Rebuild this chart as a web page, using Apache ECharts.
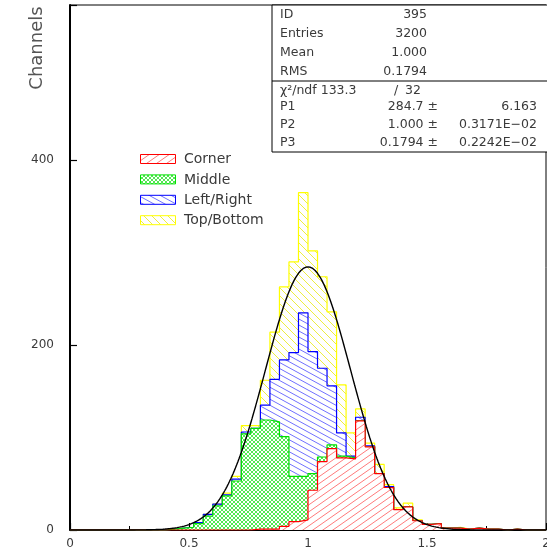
<!DOCTYPE html>
<html>
<head>
<meta charset="utf-8">
<script src="https://cdn.jsdelivr.net/npm/echarts@6/dist/echarts.min.js"></script>
<style>
  html, body { margin: 0; padding: 0; background: #fff; }
  #chart { width: 547px; height: 548px; }
</style>
</head>
<body>
<div id="chart"></div>
<script>
// Histogram binning: 50 bins of width 0.04 on [0, 2]
const binWidth = 0.04;
const nBins = 50;

// Entries per bin for each detector region
const corner = [
  0, 0, 0, 0, 0, 0, 0, 0, 0, 0,
  0, 0, 0, 0, 0, 0, 0, 0, 0, 1,
  1, 1, 4, 9, 11, 43, 74, 88, 78, 77,
  118, 90, 61, 46, 22, 25, 10, 6, 7, 2,
  2, 1, 2, 1, 1, 0, 1, 0, 0, 0
];
const middle = [
  0, 0, 0, 0, 0, 0, 0, 0, 0, 0,
  1, 2, 3, 7, 15, 26, 37, 53, 104, 109,
  118, 116, 97, 49, 47, 18, 5, 4, 2, 1,
  0, 0, 0, 0, 0, 0, 0, 0, 0, 0,
  0, 0, 0, 0, 0, 0, 0, 0, 0, 0
];
const leftRight = [
  0, 0, 0, 0, 0, 0, 0, 0, 0, 0,
  0, 0, 0, 1, 2, 2, 1, 2, 2, 0,
  16, 46, 83, 134, 177, 132, 96, 64, 25, 2,
  4, 1, 0, 1, 0, 0, 0, 0, 0, 0,
  0, 0, 0, 0, 0, 0, 0, 0, 0, 0
];
const topBottom = [
  0, 0, 0, 0, 0, 0, 0, 0, 0, 0,
  0, 0, 0, 0, 0, 0, 2, 3, 7, 3,
  27, 51, 79, 98, 130, 109, 99, 80, 52, 25,
  9, 3, 10, 2, 2, 4, 1, 0, 0, 0,
  1, 0, 0, 0, 0, 0, 0, 0, 0, 0
];

// Gaussian fit parameters
const fitP1 = 284.7;
const fitP2 = 1.000;
const fitP3 = 0.1794;

// Legend entries and statistics box text
const legendNames = ['Corner', 'Middle', 'Left/Right', 'Top/Bottom'];
const statsTop = [
  ['ID', '395'],
  ['Entries', '3200'],
  ['Mean', '1.000'],
  ['RMS', '0.1794']
];
const chi2Text = ['\u03c7\u00b2/ndf 133.3', '/', '32'];
const fitRows = [
  ['P1', '284.7 \u00b1', '6.163'],
  ['P2', '1.000 \u00b1', '0.3171E\u221202'],
  ['P3', '0.1794 \u00b1', '0.2242E\u221202']
];
const xTickLabels = ['0', '0.5', '1', '1.5', '2'];

// Hatch tiles (white ground with diagonal strokes)
function makePattern(w, h, lineColor, dirs, lw) {
  const c = document.createElement('canvas');
  c.width = w; c.height = h;
  const g = c.getContext('2d');
  g.fillStyle = '#fff';
  g.fillRect(0, 0, w, h);
  g.strokeStyle = lineColor;
  g.lineWidth = lw;
  for (const d of dirs) {
    for (let ox = -1; ox <= 1; ox++) {
      for (let oy = -1; oy <= 1; oy++) {
        g.beginPath();
        if (d === '/') {
          g.moveTo(ox * w, oy * h + h);
          g.lineTo(ox * w + w, oy * h);
        } else {
          g.moveTo(ox * w, oy * h);
          g.lineTo(ox * w + w, oy * h + h);
        }
        g.stroke();
      }
    }
  }
  return c;
}

const styles = [
  { line: '#ff0000', tile: makePattern(10, 7, '#ff7a7a', ['/'], 1) },
  { line: '#00e000', tile: makePattern(4, 4, '#3ee83e', ['/', '\\'], 0.9) },
  { line: '#0000ff', tile: makePattern(11, 6, '#7070ff', ['\\'], 1) },
  { line: '#ffff00', tile: makePattern(8, 8, '#eeee40', ['\\'], 1) }
];

// Cumulative (stacked) contents, bottom to top
const parts = [corner, middle, leftRight, topBottom];
const cumulative = [];
let running = new Array(nBins).fill(0);
for (const p of parts) {
  running = running.map((v, i) => v + p[i]);
  cumulative.push(running.slice());
}

function stepData(arr) {
  const d = [];
  for (let i = 0; i < nBins; i++) d.push([i * binWidth, arr[i]]);
  d.push([nBins * binWidth, arr[nBins - 1]]);
  return d;
}

// Fit curve sampled over the histogram range
const fitData = [];
for (let k = 0; k <= 400; k++) {
  const x = k * 0.005;
  const u = (x - fitP2) / fitP3;
  fitData.push([x, fitP1 * Math.exp(-0.5 * u * u)]);
}

const series = [];
// draw back (Top/Bottom, total) to front (Corner)
for (let s = 3; s >= 0; s--) {
  series.push({
    type: 'line',
    name: legendNames[s],
    data: stepData(cumulative[s]),
    step: 'end',
    showSymbol: false,
    symbol: 'none',
    z: 2 + (3 - s),
    lineStyle: { color: styles[s].line, width: 1.2 },
    areaStyle: { color: { image: styles[s].tile, repeat: 'repeat' }, opacity: 1 },
    animation: false
  });
}
series.push({
  type: 'line',
  name: 'fit',
  data: fitData,
  showSymbol: false,
  symbol: 'none',
  z: 10,
  lineStyle: { color: '#000', width: 1.4 },
  animation: false
});

const font = '"DejaVu Sans", "Liberation Sans", sans-serif';
const txtColor = '#3a3a3a';

function text(x, y, str, size, align, rotation, color) {
  return {
    type: 'text',
    z: 30,
    x: x, y: y,
    rotation: rotation || 0,
    style: {
      x: 0, y: 0, text: str,
      font: size + 'px ' + font,
      fill: color || txtColor,
      align: align, textAlign: align,
      verticalAlign: 'middle', textVerticalAlign: 'middle'
    }
  };
}

const graphics = [];
// statistics box
graphics.push({
  type: 'rect', z: 25,
  shape: { x: 272, y: 5, width: 300, height: 147 },
  style: { fill: '#fff', stroke: '#000', lineWidth: 1 }
});
graphics.push({
  type: 'line', z: 26,
  shape: { x1: 272, y1: 81, x2: 547, y2: 81 },
  style: { stroke: '#000', lineWidth: 1 }
});
const topRowsY = [15, 34, 53, 72];
statsTop.forEach((r, i) => {
  graphics.push(text(280, topRowsY[i], r[0], 12.5, 'left'));
  graphics.push(text(427, topRowsY[i], r[1], 12.5, 'right'));
});
graphics.push(text(280, 91, chi2Text[0], 12.5, 'left'));
graphics.push(text(396, 91, chi2Text[1], 12.5, 'center'));
graphics.push(text(421, 91, chi2Text[2], 12.5, 'right'));
const fitRowsY = [107, 125, 143];
fitRows.forEach((r, i) => {
  graphics.push(text(280, fitRowsY[i], r[0], 12.5, 'left'));
  graphics.push(text(438, fitRowsY[i], r[1], 12.5, 'right'));
  graphics.push(text(537, fitRowsY[i], r[2], 12.5, 'right'));
});
// legend
legendNames.forEach((n, i) => {
  const y = 154.5 + i * 20.4;
  graphics.push({
    type: 'rect', z: 25,
    shape: { x: 140.5, y: y, width: 35, height: 9 },
    style: { fill: { image: styles[i].tile, repeat: 'repeat' }, stroke: styles[i].line, lineWidth: 1 }
  });
  graphics.push(text(184, y + 5, n, 14, 'left'));
});
// vertical axis title
graphics.push(text(37, 48, 'Channels', 18, 'center', Math.PI / 2, '#555'));

const chart = echarts.init(document.getElementById('chart'), null, { renderer: 'canvas' });
chart.setOption({
  animation: false,
  backgroundColor: '#fff',
  grid: {
    left: 70, right: 1, top: 5, bottom: 18,
    outerBoundsMode: 'none',
    containLabel: false,
    show: true, borderColor: '#000', borderWidth: 1, backgroundColor: 'transparent'
  },
  xAxis: {
    type: 'value', min: 0, max: 2, interval: 0.5,
    axisLine: { show: true, onZero: false, lineStyle: { color: '#000', width: 1 } },
    axisTick: { show: true, inside: true, length: 7, lineStyle: { color: '#000', width: 1.2 } },
    minorTick: { show: true, splitNumber: 2, length: 4, lineStyle: { color: '#000', width: 1 } },
    splitLine: { show: false },
    axisLabel: {
      margin: 8, fontSize: 12, fontFamily: font, color: txtColor,
      formatter: (v) => {
        const idx = Math.round(v / 0.5);
        return Math.abs(v - idx * 0.5) < 1e-9 ? xTickLabels[idx] : '';
      }
    }
  },
  yAxis: {
    type: 'value', min: 0, max: 568, interval: 200,
    axisLine: { show: true, onZero: false, lineStyle: { color: '#000', width: 2 } },
    axisTick: { show: true, inside: true, length: 7, lineStyle: { color: '#000', width: 1.2 } },
    splitLine: { show: false },
    axisLabel: {
      margin: 16, fontSize: 12, fontFamily: font, color: txtColor,
      formatter: (v) => (v % 200 === 0 ? String(v) : '')
    }
  },
  series: series,
  graphic: graphics
});
</script>
</body>
</html>
